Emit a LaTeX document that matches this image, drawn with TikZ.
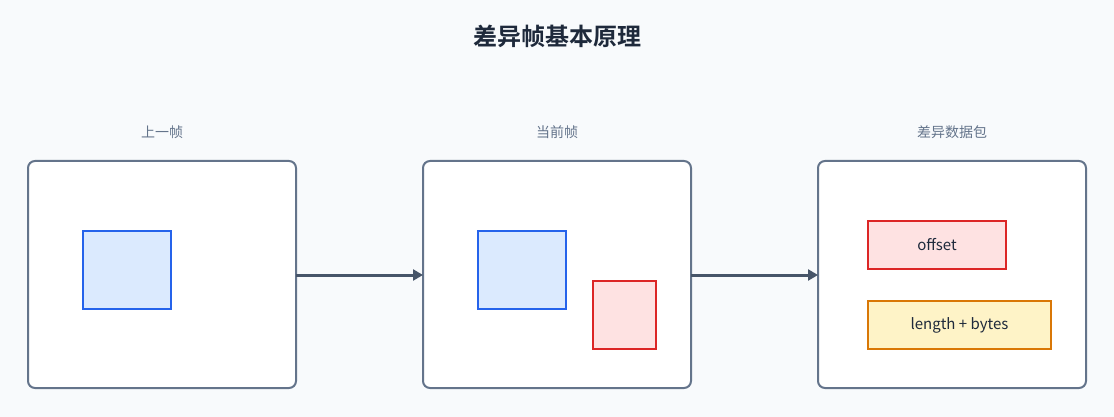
\documentclass[tikz,border=0pt]{standalone}
\usepackage{fontspec}
\setmainfont{Noto Sans CJK SC}
\newfontfamily\cjkbold{Noto Sans CJK SC}[BoldFont={* Bold}]
\usetikzlibrary{arrows.meta}
\definecolor{bgc}{HTML}{F8FAFC}
\definecolor{titlec}{HTML}{1E293B}
\definecolor{labc}{HTML}{64748B}
\definecolor{framec}{HTML}{64748B}
\definecolor{arrc}{HTML}{475569}
\definecolor{bluef}{HTML}{DBEAFE}
\definecolor{blued}{HTML}{2563EB}
\definecolor{redf}{HTML}{FEE2E2}
\definecolor{redd}{HTML}{DC2626}
\definecolor{yelf}{HTML}{FEF3C7}
\definecolor{yeld}{HTML}{D97706}
\definecolor{txtc}{HTML}{1E293B}
\tikzset{
  px/.style={x=1pt,y=-1pt},
  framebox/.style={draw=framec,line width=2pt,fill=white,rounded corners=7pt},
  bluebox/.style={draw=blued,line width=2pt,fill=bluef},
  redbox/.style={draw=redd,line width=2pt,fill=redf},
  yelbox/.style={draw=yeld,line width=2pt,fill=yelf},
  lab/.style={text=labc,font=\fontsize{14}{16}\selectfont},
  inlab/.style={text=txtc,font=\fontsize{15}{17}\selectfont},
  conn/.style={draw=arrc,line width=3pt,-{Triangle[length=10pt,width=11pt]}},
}
\begin{document}
\begin{tikzpicture}[px]
\fill[bgc] (0,0) rectangle (1114,417);
\useasboundingbox (0,0) rectangle (1114,417);
\node[text=titlec,font=\cjkbold\bfseries\fontsize{24}{28}\selectfont] (title) at (557,36) {差异帧基本原理};
\node[lab] (l1) at (162,132) {上一帧};
\node[lab] (l2) at (557,132) {当前帧};
\node[lab] (l3) at (952,132) {差异数据包};
\path[framebox] (28,161) rectangle (296,388);
\path[framebox] (423,161) rectangle (691,388);
\path[framebox] (818,161) rectangle (1086,388);
\coordinate (f1e) at (296,275);
\coordinate (f2w) at (423,275);
\coordinate (f2e) at (691,275);
\coordinate (f3w) at (818,275);
\path[bluebox] (83,231) rectangle (171,309);
\path[bluebox] (478,231) rectangle (566,309);
\path[redbox] (593,281) rectangle (656,349);
\path[redbox] (868,221) rectangle (1006,269);
\node[inlab] (off) at (937,245) {offset};
\path[yelbox] (868,301) rectangle (1051,349);
\node[inlab] (len) at (959.5,325) {length + bytes};
\draw[conn] (f1e) -- (f2w);
\draw[conn] (f2e) -- (f3w);
\end{tikzpicture}
\end{document}
